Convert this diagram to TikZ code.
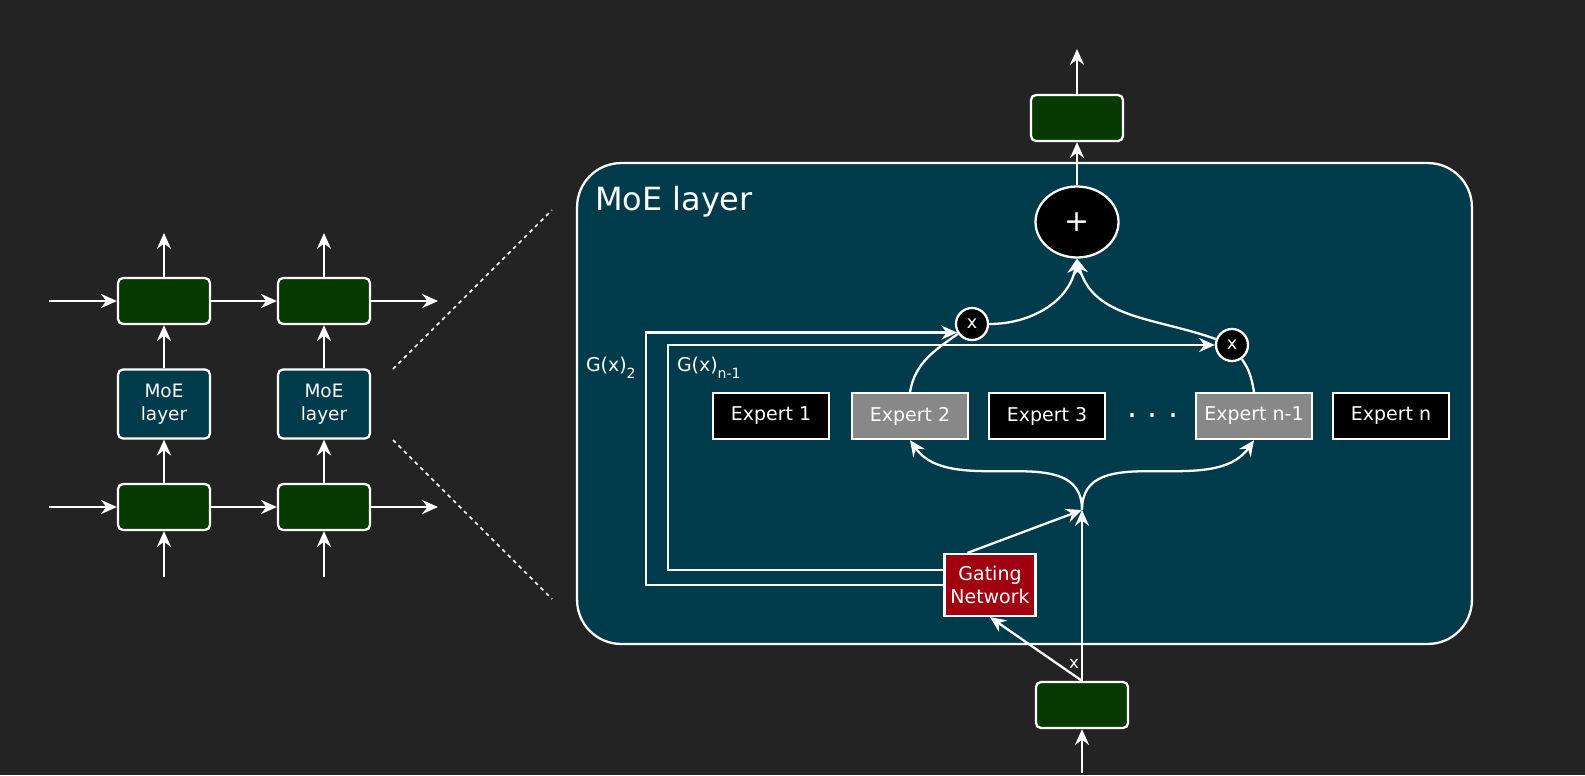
\documentclass[tikz,border=0pt]{standalone}
\usepackage{fontspec}
\setmainfont{DejaVu Sans}
\usepackage{tikz}
\usetikzlibrary{arrows.meta}
\usetikzlibrary{shapes.geometric,positioning}

\definecolor{bgcol}{RGB}{35,35,35}
\definecolor{layercol}{RGB}{0,59,76}
\definecolor{blockcol}{RGB}{7,58,0}
\definecolor{gatecol}{RGB}{160,0,16}
\definecolor{firecol}{RGB}{136,136,136}

\newcommand{\gsub}[1]{\raisebox{-4pt}{\fontsize{8}{9}\selectfont #1}}

\begin{document}
\begin{tikzpicture}[x=0.02cm,y=-0.02cm,color=white,line width=1.3pt]
  \tikzset{block/.style = {shape=rectangle,draw,rounded corners=0.1cm,minimum width=1.84cm,minimum height=0.92cm,inner sep=0pt,fill=blockcol}}
  \tikzset{moeblock/.style = {block,fill=layercol,minimum height=1.38cm,align=center,font=\fontsize{10.5}{13}\selectfont}}
  \tikzset{expert/.style = {shape=rectangle,draw,minimum width=2.32cm,minimum height=0.92cm,inner sep=0pt,fill=black,font=\fontsize{10.8}{12}\selectfont}}
  \tikzset{fireexpert/.style = {expert,fill=firecol}}
  \tikzset{gate/.style = {shape=rectangle,draw,minimum width=1.82cm,minimum height=1.24cm,inner sep=0pt,fill=gatecol,align=center,font=\fontsize{10.8}{13.5}\selectfont}}
  \tikzset{mult/.style = {shape=circle,draw,minimum size=0.64cm,inner sep=0pt,fill=black,font=\fontsize{10}{10}\selectfont}}
  \tikzset{sumnode/.style = {shape=ellipse,draw,minimum width=1.66cm,minimum height=1.42cm,inner sep=0pt,fill=black,font=\fontsize{17}{18}\selectfont}}
  \tikzset{layer/.style = {shape=rectangle,draw,rounded corners=0.88cm,minimum width=17.9cm,minimum height=9.62cm,fill=layercol}}
  \tikzset{zoomline/.style = {line width=0.9pt,dash pattern=on 2.2pt off 2.2pt}}
  \tikzset{%
  tipW/.tip={Stealth[length=9pt,width=8pt,inset=3pt]},
}

  \fill[bgcol] (0,0) rectangle (1585,775);
  \useasboundingbox (0,0) rectangle (1585,775);

	% unrolled network
	\node[block] (T1) at (164,301) {};
	\node[block] (T2) at (324,301) {};
	\node[moeblock] (M1) at (164,404) {MoE\\layer};
	\node[moeblock] (M2) at (324,404) {MoE\\layer};
	\node[block] (B1) at (164,507) {};
	\node[block] (B2) at (324,507) {};
	\coordinate (TI) at (49,301);
	\coordinate (TO) at (438,301);
	\coordinate (BI) at (49,507);
	\coordinate (BO) at (438,507);
	\coordinate (U1) at (164,233);
	\coordinate (U2) at (324,233);
	\coordinate (D1) at (164,577);
	\coordinate (D2) at (324,577);

    \foreach \from/\to in {TI/T1, T1/T2, T2/TO, BI/B1, B1/B2, B2/BO, D1/B1, B1/M1, M1/T1, T1/U1, D2/B2, B2/M2, M2/T2, T2/U2}
    \path[-tipW](\from) edge (\to);

	% zoom lines
	\coordinate (Z1) at (393,369);
	\coordinate (Z2) at (552,210);
	\coordinate (Z3) at (393,440);
	\coordinate (Z4) at (552,599);
	\draw[zoomline] (Z1) -- (Z2) (Z3) -- (Z4);

	% MoE layer
	\node[layer] (L) at (1024.5,403.5) {};
	\node[anchor=base west,font=\fontsize{18.2}{20}\selectfont] (LT) at (588,210) {MoE layer};

	\node[block] (OUT) at (1077,118) {};
	\coordinate (OU) at (1077,49);
	\node[sumnode] (S) at (1077,222) {+};
	\node[mult] (X1) at (972,324) {x};
	\node[mult] (X2) at (1232,345) {x};

	\node[expert] (E1) at (771,416) {Expert 1};
	\node[fireexpert] (E2) at (910,416) {Expert 2};
	\node[expert] (E3) at (1047,416) {Expert 3};
	\node[font=\fontsize{18}{20}\selectfont] (DOTS) at (1153,420) {· · ·};
	\node[fireexpert] (En1) at (1254,416) {Expert n-1};
	\node[expert] (En) at (1391,416) {Expert n};

	\node[gate] (G) at (990,585) {Gating\\Network};
	\node[block] (IN) at (1082,705) {};
	\coordinate (ID) at (1082,773);
	\coordinate (J) at (1082,510);
	\coordinate (P2) at (646,0);
	\coordinate (Pn) at (668,0);

	\node[anchor=base west,font=\fontsize{10.8}{12}\selectfont] (G2) at (579,371) {G(x)\gsub{2}};
	\node[anchor=base west,font=\fontsize{10.8}{12}\selectfont] (Gn) at (670,371) {G(x)\gsub{n-1}};
	\node[font=\fontsize{9.5}{10}\selectfont] (XL) at (1074,664) {x};

    \foreach \from/\to in {S/OUT, OUT/OU, ID/IN, IN.north/J, IN.north/G.south, G.125/J}
    \path[-tipW](\from) edge (\to);

    \path[-tipW] (J) edge[out=90,in=-55] (E2.south)
                 (J) edge[out=90,in=-125] (En1.south)
                 (X1) edge[out=0,in=-100] (S.south)
                 (X2) edge[out=160,in=-75] (S.south);
    \draw (E2.north) to[out=80,in=215] (X1);
    \draw (En1.north) to[out=100,in=-55] (X2);
    \draw[-tipW] (G.west) -- (G.west -| P2) |- (X1.210);
    \draw[-tipW] (G.162) -- (G.162 -| Pn) |- (X2.west);

\end{tikzpicture}
\end{document}
